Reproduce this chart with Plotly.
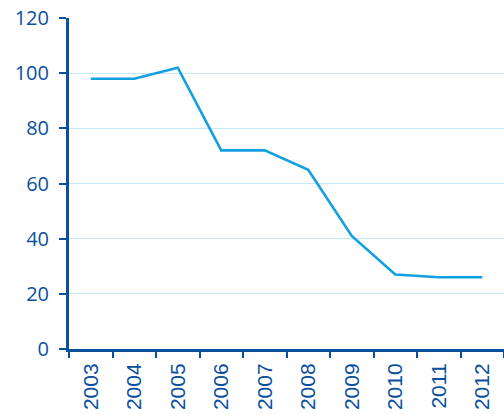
import plotly.graph_objects as go

years = ["2003", "2004", "2005", "2006", "2007", "2008", "2009", "2010", "2011", "2012"]
values = [98, 98, 102, 72, 72, 65, 41, 27, 26, 26]

axis_blue = "#0b4f9f"
line_blue = "#12a0e2"
grid_blue = "#c4e9f8"

fig = go.Figure(
    go.Scatter(
        x=years,
        y=values,
        mode="lines",
        line=dict(color=line_blue, width=2.6),
        hoverinfo="x+y",
    )
)

fig.update_layout(
    width=504,
    height=414,
    margin=dict(l=69, r=0, t=18, b=65),
    paper_bgcolor="white",
    plot_bgcolor="white",
    showlegend=False,
    font=dict(family="Open Sans, sans-serif", color=axis_blue),
)

fig.update_xaxes(
    type="category",
    tickson="boundaries",
    ticks="outside",
    ticklen=6,
    tickwidth=2,
    tickcolor=axis_blue,
    tickangle=-90,
    tickfont=dict(family="Liberation Sans, Arial, sans-serif", size=21, color=axis_blue),
    ticklabelstandoff=3,
    showline=True,
    linecolor=axis_blue,
    linewidth=3,
    showgrid=False,
    range=[-0.5, 9.5],
)

fig.update_yaxes(
    range=[0, 120],
    dtick=20,
    ticks="outside",
    ticklen=7,
    tickwidth=2,
    tickcolor=axis_blue,
    tickfont=dict(family="Open Sans, sans-serif", size=20, color=axis_blue),
    ticklabelstandoff=6,
    showline=True,
    linecolor=axis_blue,
    linewidth=3,
    showgrid=True,
    gridcolor=grid_blue,
    gridwidth=1,
    zeroline=False,
)

fig.write_html("out.html")
